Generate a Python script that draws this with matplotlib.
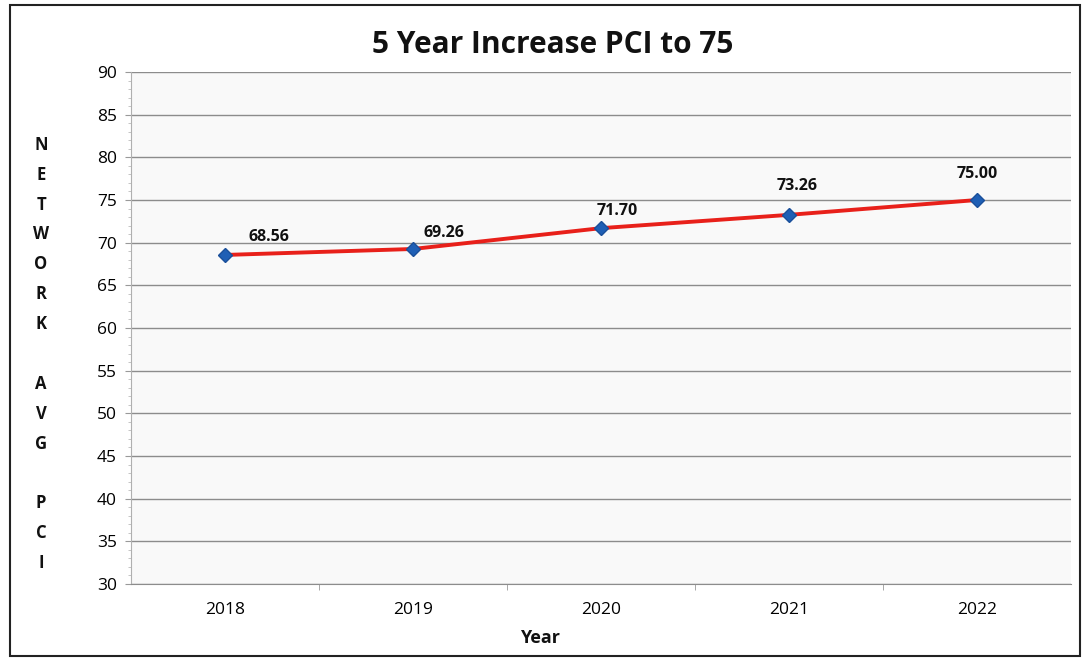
import matplotlib
matplotlib.use("Agg")
import matplotlib.pyplot as plt
from matplotlib.patches import Rectangle
from matplotlib.ticker import MultipleLocator, FixedLocator

years = ["2018", "2019", "2020", "2021", "2022"]
pci = [68.56, 69.26, 71.70, 73.26, 75.00]
title = "5 Year Increase PCI to 75"
ylabel_letters = "N\nE\nT\nW\nO\nR\nK\n\nA\nV\nG\n\nP\nC\nI"
xlabel = "Year"

# label offsets in pixels (style only)
label_offsets = [(44, 18), (31, 16), (16, 17), (8, 29), (0, 26)]

plt.rcParams['font.family'] = ['Open Sans', 'DejaVu Sans']

fig = plt.figure(figsize=(10.89, 6.62), dpi=100)
fig.patch.set_facecolor("white")
fig.patches.append(Rectangle((10/1089, 1 - 656/662), 1070/1089, 651/662,
                             transform=fig.transFigure, fill=False,
                             edgecolor="#222222", linewidth=1.5))

ax = fig.add_axes([131/1089, 1 - 584/662, 940/1089, 512/662])
ax.set_facecolor("#f9f9f9")

x = list(range(len(years)))
ax.plot(x, pci, color="#e8201a", linewidth=2.8, zorder=3)
ax.plot(x, pci, linestyle="none", marker="D", markersize=7.5,
        markerfacecolor="#1f5fb5", markeredgecolor="#1a4f9a", zorder=4)

for xi, v, (dx, dy) in zip(x, pci, label_offsets):
    ax.annotate(f"{v:.2f}", (xi, v), xytext=(dx * 0.72, dy * 0.72),
                textcoords="offset points", ha="center", va="center",
                fontsize=11.5, fontweight="bold", color="#111111")

ax.set_xlim(-0.5, len(years) - 0.5)
ax.set_ylim(30, 90)
ax.yaxis.set_major_locator(MultipleLocator(5))
ax.yaxis.set_minor_locator(MultipleLocator(1))
ax.set_xticks(x)
ax.set_xticklabels(years)
ax.xaxis.set_minor_locator(FixedLocator([i + 0.5 for i in x[:-1]]))

ax.grid(axis="y", which="major", color="#8c8c8c", linewidth=1.0)
ax.set_axisbelow(True)

for s in ["top", "right"]:
    ax.spines[s].set_visible(False)
ax.spines["left"].set_color("#b0b0b0")
ax.spines["bottom"].set_color("#8c8c8c")

ax.tick_params(axis="y", which="major", length=4, color="#999999", labelsize=12.5, pad=6)
ax.tick_params(axis="y", which="minor", length=2, color="#bbbbbb")
ax.tick_params(axis="x", which="major", length=0, labelsize=12.5, pad=13)
ax.tick_params(axis="x", which="minor", length=4, color="#999999")

fig.text(553/1089, 1 - 45/662, title, ha="center", va="center",
         fontsize=21.5, fontweight="bold", color="#111111")
fig.text(540/1089, 1 - 638/662, xlabel, ha="center", va="center",
         fontsize=13, fontweight="bold", color="#111111")
fig.text(41/1089, 1 - 354/662, ylabel_letters, ha="center", va="center",
         fontsize=12, fontweight="bold", color="#111111", linespacing=1.85)

fig.savefig("out.png", dpi=100)
